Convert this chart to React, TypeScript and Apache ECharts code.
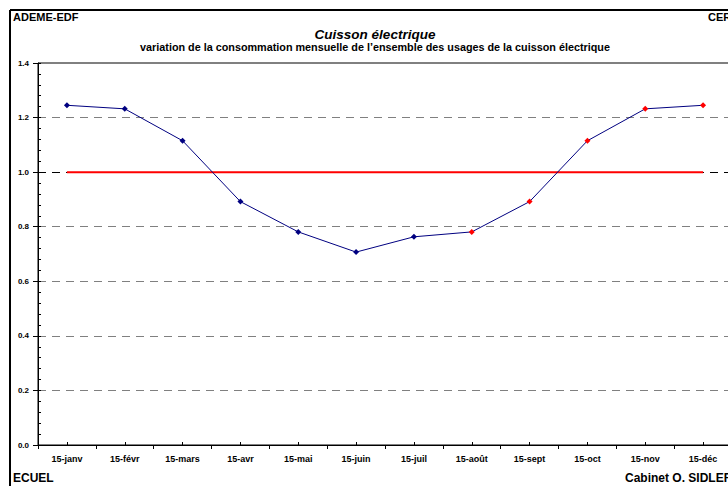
import React, { useEffect, useRef } from "react";
import * as echarts from "echarts";

const months = ["15-janv", "15-févr", "15-mars", "15-avr", "15-mai", "15-juin", "15-juil", "15-août", "15-sept", "15-oct", "15-nov", "15-déc"];
const consumption = [1.245, 1.232, 1.115, 0.892, 0.781, 0.707, 0.763, 0.781, 0.892, 1.115, 1.232, 1.245];
const reference = [1, 1, 1, 1, 1, 1, 1, 1, 1, 1, 1, 1];
const yTicks = [0, 0.2, 0.4, 0.6, 0.8, 1.0, 1.2, 1.4];
const firstRedIndex = 7;

const FONT = "'Liberation Sans', Arial, sans-serif";

export default function App() {
  const ref = useRef<HTMLDivElement>(null);
  useEffect(() => {
    if (!ref.current) return;
    const chart = echarts.init(ref.current, null, { renderer: "svg" });
    const gridColors = yTicks.map((v) => (Math.abs(v - 1) < 1e-9 ? "#000000" : "#808080"));
    chart.setOption({
      animation: false,
      textStyle: { fontFamily: FONT },
      grid: {
        left: 38,
        top: 63,
        right: 28,
        bottom: 41,
        show: true,
        borderColor: "#000",
        borderWidth: 1,
        backgroundColor: "transparent",
      },
      xAxis: [
        {
          type: "category",
          data: months,
          position: "bottom",
          boundaryGap: true,
          axisLine: { show: true, lineStyle: { color: "#000", width: 1 } },
          axisTick: { show: true, length: 4, lineStyle: { color: "#000" } },
          axisLabel: { color: "#000", fontSize: 9, fontWeight: "bold", fontFamily: FONT, margin: 9, interval: 0 },
          splitLine: { show: false },
        },
        {
          type: "category",
          data: months,
          position: "bottom",
          boundaryGap: true,
          axisLine: { show: false },
          axisTick: { show: true, alignWithLabel: true, inside: true, length: 3, lineStyle: { color: "#000" } },
          axisLabel: { show: false },
          splitLine: { show: false },
        },
      ],
      yAxis: [
        {
          type: "value",
          min: 0,
          max: 1.4,
          interval: 0.2,
          position: "left",
          axisLine: { show: true, lineStyle: { color: "#000", width: 1 } },
          axisTick: { show: true, length: 5, lineStyle: { color: "#000" } },
          axisLabel: {
            color: "#000",
            fontSize: 8,
            fontWeight: "bold",
            fontFamily: FONT,
            margin: 9,
            formatter: (v: number) => v.toFixed(1),
          },
          splitLine: {
            show: true,
            lineStyle: { color: gridColors, type: [8, 6], width: 1.2 },
          },
        },
        {
          type: "value",
          min: 0,
          max: 1.4,
          interval: 0.04,
          position: "left",
          axisLine: { show: false },
          axisTick: { show: true, inside: true, length: 3, lineStyle: { color: "#000" } },
          axisLabel: { show: false },
          splitLine: { show: false },
        },
      ],
      graphic: [
        { type: "line", shape: { x1: 10, y1: 10, x2: 10, y2: 486 }, style: { stroke: "#000", lineWidth: 2 } },
        { type: "line", shape: { x1: 10, y1: 10, x2: 760, y2: 10 }, style: { stroke: "#000", lineWidth: 2 } },
        { type: "text", x: 13, y: 17, style: { text: "ADEME-EDF", font: `bold 11px ${FONT}`, fill: "#000", verticalAlign: "middle" } },
        { type: "text", x: 708, y: 17, style: { text: "CEREN", font: `bold 11px ${FONT}`, fill: "#000", verticalAlign: "middle" } },
        { type: "text", x: 375, y: 34, style: { text: "Cuisson électrique", font: `italic bold 13.5px ${FONT}`, fill: "#000", align: "center", verticalAlign: "middle" } },
        {
          type: "text",
          x: 375,
          y: 47,
          style: {
            text: "variation de la consommation mensuelle de l’ensemble des usages de la cuisson électrique",
            font: `bold 10.8px ${FONT}`,
            fill: "#000",
            align: "center",
            verticalAlign: "middle",
          },
        },
        { type: "text", x: 13, y: 478, style: { text: "ECUEL", font: `bold 12px ${FONT}`, fill: "#000", verticalAlign: "middle" } },
        { type: "text", x: 625, y: 478, style: { text: "Cabinet O. SIDLER", font: `bold 12px ${FONT}`, fill: "#000", verticalAlign: "middle" } },
      ],
      series: [
        {
          name: "Référence",
          type: "line",
          data: reference,
          showSymbol: false,
          symbol: "none",
          lineStyle: { color: "#ff0000", width: 2 },
          z: 2,
        },
        {
          name: "Consommation",
          type: "line",
          data: consumption,
          symbol: "diamond",
          symbolSize: 6,
          lineStyle: { color: "#000080", width: 1 },
          itemStyle: {
            color: (p: any) => (p.dataIndex >= firstRedIndex ? "#ff0000" : "#000080"),
          },
          z: 3,
        },
      ],
    });
    return () => chart.dispose();
  }, []);
  return (
    <div style={{ position: "absolute", left: 0, top: 0, width: 728, height: 486, overflow: "hidden", background: "#fff" }}>
      <div ref={ref} style={{ width: 760, height: 486 }} />
    </div>
  );
}
